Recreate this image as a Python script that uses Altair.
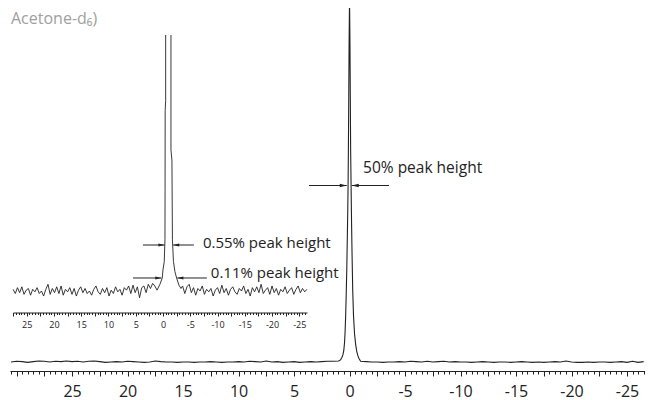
import altair as alt
import pandas as pd

# ---------------- main spectrum (ppm, % of peak height) ----------------
main_left_start, main_step = 30.5, 0.5
main_left_noise = [0.0, 0.2, 0.1, -0.1, 0.1, 0.3, 0.2, 0.0, 0.2, 0.1,
                   0.3, 0.1, 0.2, 0.0, 0.2, 0.3, 0.1, -0.1, 0.0, 0.1,
                   0.0, 0.2, 0.1, 0.0, -0.1, 0.0, 0.3, 0.1, 0.0, 0.0,
                   -0.1, 0.0, 0.0, -0.1, 0.0, 0.0, 0.1, 0.0, -0.1, 0.0,
                   0.0, 0.1, 0.0, 0.2, 0.1, 0.0, 0.3, 0.0, 0.1, -0.1,
                   0.0, 0.1, -0.1, 0.0, 0.1, 0.0, 0.1, 0.2, 0.2, 0.3]
main_peak_ppm = [0.9, 0.8, 0.7, 0.6, 0.52, 0.45, 0.4, 0.35, 0.3, 0.25, 0.2, 0.16, 0.13, 0.1, 0.07,
                 0.04, 0.0, -0.04, -0.07, -0.1, -0.14, -0.18, -0.23, -0.29, -0.36, -0.45, -0.55,
                 -0.65, -0.75, -0.85]
main_peak_int = [0.4, 0.7, 1.2, 2.0, 3.2, 5.5, 8.5, 13, 19, 26, 35, 43, 50, 61, 75,
                 90, 103, 90, 75, 60, 50, 40, 30, 20, 13, 8, 5,
                 3, 1.8, 1.0]
main_right_start = -1.0
main_right_noise = [0.2, 0.1, 0.0, 0.0, -0.1, 0.0, 0.0, 0.1, 0.0, 0.2,
                    0.1, 0.0, 0.2, 0.0, 0.1, 0.2, 0.0, 0.1, 0.0, 0.0,
                    -0.1, 0.0, 0.1, 0.0, -0.1, 0.0, 0.0, -0.1, 0.0, 0.1,
                    0.0, -0.1, 0.0, -0.1, 0.0, 0.1, 0.0, 0.3, 0.0, -0.1,
                    -0.1, 0.0, -0.1, 0.0, 0.0, -0.1, 0.0, 0.1, -0.1, 0.2,
                    -0.1, 0.1]

# ---------------- inset spectrum (ppm, 0.01 % of peak height) ----------------
inset_left_start, inset_step = 27.5, 0.4
inset_left_noise = [2, -3, 4, -2, 5, -4, 1, 3, -5, 2,
                    -1, 4, -3, 0, -6, 2, 8, -4, 3, -2,
                    5, -3, 6, -5, 2, -1, 4, -4, 3, -6,
                    1, 5, -2, 3, -3, 0, -5, 2, 6, -1,
                    -4, 3, -2, 4, -6, 1, -3, 5, -1, 2,
                    -5, 4, 1, 6, -3, 7, -2, 5, -8, 4,
                    6, -2, 8, 3, 9, 6]
inset_lflank_ppm = [1.1, 0.56, 0.14, 0.01, -0.23, -0.36, -0.38, -0.40, -0.49, -0.49]
inset_lflank_int = [1, 8, 15.5, 25, 35, 61, 120, 215, 227, 305]
inset_rflank_ppm = [-1.46, -1.46, -1.64, -1.73, -1.92, -2.19, -2.5, -2.92, -3.3]
inset_rflank_int = [305, 168, 156, 61, 35, 23, 15.5, 7, 3]
inset_right_start = -3.6
inset_right_noise = [6, -3, 5, 8, -2, 4, -5, 3, 0, 6,
                     -4, 2, -1, 3, -6, 1, 4, -3, 7, -2,
                     3, -5, 2, 5, -1, -4, 3, 0, 6, -3,
                     2, -6, 4, -1, 5, -2, 8, -3, 1, 4,
                     -4, 6, -2, 3, -5, 2, -1, 5, -3, 1,
                     4, -4, 2, 6, -2, 3, -1, 2]

# ---------------- annotations ----------------
main_arrow_tail = [3.65, -3.56]
main_arrow_tip = [0.25, -0.2]
main_arrow_level = [50, 50]
main_label = ["50% peak height"]
main_label_ppm = [-1.22]
main_label_level = [55]

inset_arrow_tail = [3.67, -5.67, 5.5, -8.05]
inset_arrow_tip = [-0.28, -1.86, 0.3, -2.62]
inset_arrow_level = [54.8, 54.8, 15.5, 15.5]
inset_labels = ["0.55% peak height", "0.11% peak height"]
inset_label_ppm = [-7.32, -8.78]
inset_label_level = [57, 21.4]

title_text = "Acetone-d₆)"

main_tick_values = [30 - 2.5 * i for i in range(23)]
main_minor_values = [30.5 - 0.5 * i for i in range(115)]
inset_tick_values = [27.5 - 2.5 * i for i in range(22)]
inset_minor_values = [27.5 - 0.5 * i for i in range(108)]

# ---------------- tables ----------------
m_ppm = ([main_left_start - main_step * i for i in range(len(main_left_noise))]
         + main_peak_ppm
         + [main_right_start - main_step * i for i in range(len(main_right_noise))])
m_val = main_left_noise + main_peak_int + main_right_noise
main_df = pd.DataFrame({"ppm": m_ppm, "v": m_val, "i": range(len(m_ppm))})

l_ppm = [inset_left_start - inset_step * i for i in range(len(inset_left_noise))] + inset_lflank_ppm
l_val = inset_left_noise + inset_lflank_int
r_ppm = inset_rflank_ppm + [inset_right_start - inset_step * i for i in range(len(inset_right_noise))]
r_val = inset_rflank_int + inset_right_noise
inset_df = pd.DataFrame({
    "ppm": l_ppm + r_ppm,
    "v": l_val + r_val,
    "side": ["L"] * len(l_ppm) + ["R"] * len(r_ppm),
    "i": list(range(len(l_ppm))) + list(range(len(r_ppm))),
})

main_arrows = pd.DataFrame({"tail": main_arrow_tail, "tip": main_arrow_tip, "v": main_arrow_level})
inset_arrows = pd.DataFrame({"tail": inset_arrow_tail, "tip": inset_arrow_tip, "v": inset_arrow_level})
main_text_df = pd.DataFrame({"t": main_label, "ppm": main_label_ppm, "v": main_label_level})
inset_text_df = pd.DataFrame({"t": inset_labels, "ppm": inset_label_ppm, "v": inset_label_level})

W, H = 635, 363
INK = "#222222"
FONT = "Open Sans"


def mx():
    return alt.Scale(domain=[-26.62, 30.59], reverse=True, range=[0, W], nice=False, zero=False)


def my():
    return alt.Scale(domain=[0, 100], range=[354, 1], nice=False, zero=False)


def ix():
    return alt.Scale(domain=[-26.42, 27.52], reverse=True, range=[3, 297], nice=False, zero=False)


def iy():
    return alt.Scale(domain=[0, 305], range=[283, 27], nice=False, zero=False)


main_minor_axis = alt.Axis(values=main_minor_values, tickSize=3, labels=False, domain=True,
                           domainColor=INK, tickColor=INK, grid=False, title=None, orient="bottom")
main_major_axis = alt.Axis(values=main_tick_values, tickSize=5, domain=False, grid=False, title=None,
                           orient="bottom", tickColor=INK,
                           labelExpr="(datum.value % 5 == 0 && datum.value < 28) ? '' + datum.value : ''",
                           labelFont=FONT, labelFontSize=16, labelColor=INK, labelPadding=7,
                           labelFlush=False, labelOverlap=False)
inset_minor_axis = alt.Axis(values=inset_minor_values, tickSize=2, labels=False, domain=True,
                            domainColor=INK, tickColor=INK, grid=False, title=None, orient="bottom",
                            offset=-58.5)
inset_major_axis = alt.Axis(values=inset_tick_values, tickSize=3.5, domain=False, grid=False, title=None,
                            orient="bottom", tickColor=INK, offset=-58.5,
                            labelExpr="(datum.value % 5 == 0) ? '' + datum.value : ''",
                            labelFont=FONT, labelFontSize=9, labelColor=INK, labelPadding=4,
                            labelFlush=False, labelOverlap=False)

base_main = alt.Chart(main_df)
main_line = base_main.mark_line(color=INK, strokeWidth=1.1).encode(
    x=alt.X("ppm:Q", scale=mx(), axis=main_minor_axis),
    y=alt.Y("v:Q", scale=my(), axis=None),
    order="i:Q",
)
main_axis_layer = base_main.mark_line(opacity=0).encode(
    x=alt.X("ppm:Q", scale=mx(), axis=main_major_axis),
    y=alt.Y("v:Q", scale=my(), axis=None),
    order="i:Q",
)

base_inset = alt.Chart(inset_df)
inset_line = base_inset.mark_line(color=INK, strokeWidth=0.9).encode(
    x=alt.X("ppm:Q", scale=ix(), axis=inset_minor_axis),
    y=alt.Y("v:Q", scale=iy(), axis=None),
    detail="side:N",
    order="i:Q",
)
inset_axis_layer = base_inset.mark_line(opacity=0).encode(
    x=alt.X("ppm:Q", scale=ix(), axis=inset_major_axis),
    y=alt.Y("v:Q", scale=iy(), axis=None),
    detail="side:N",
    order="i:Q",
)

HEAD_R = "M0,0L-1,-0.25L-1,0.25Z"
HEAD_L = "M0,0L1,-0.25L1,0.25Z"


def arrow_layers(df, xs, ys, size):
    rule = alt.Chart(df).mark_rule(color=INK, strokeWidth=1).encode(
        x=alt.X("tail:Q", scale=xs(), axis=None), x2="tip:Q",
        y=alt.Y("v:Q", scale=ys(), axis=None))
    right_heads = alt.Chart(df).transform_filter("datum.tail > datum.tip").mark_point(
        shape=HEAD_R, filled=True, color=INK, size=size, opacity=1).encode(
        x=alt.X("tip:Q", scale=xs(), axis=None), y=alt.Y("v:Q", scale=ys(), axis=None))
    left_heads = alt.Chart(df).transform_filter("datum.tail < datum.tip").mark_point(
        shape=HEAD_L, filled=True, color=INK, size=size, opacity=1).encode(
        x=alt.X("tip:Q", scale=xs(), axis=None), y=alt.Y("v:Q", scale=ys(), axis=None))
    return [rule, right_heads, left_heads]


main_text = alt.Chart(main_text_df).mark_text(
    align="left", baseline="middle", font=FONT, fontSize=15.5, color=INK).encode(
    x=alt.X("ppm:Q", scale=mx(), axis=None), y=alt.Y("v:Q", scale=my(), axis=None), text="t:N")
inset_text = alt.Chart(inset_text_df).mark_text(
    align="left", baseline="middle", font=FONT, fontSize=15, color=INK).encode(
    x=alt.X("ppm:Q", scale=ix(), axis=None), y=alt.Y("v:Q", scale=iy(), axis=None), text="t:N")

title = alt.Chart(pd.DataFrame({"t": [title_text]})).mark_text(
    align="left", baseline="top", font=FONT, fontSize=16, color="#a0a0a0").encode(
    x=alt.value(1), y=alt.value(3), text="t:N")

chart = alt.layer(
    main_line, main_axis_layer, inset_line, inset_axis_layer,
    *arrow_layers(main_arrows, mx, my, 196),
    *arrow_layers(inset_arrows, ix, iy, 150),
    main_text, inset_text, title,
).resolve_scale(x="independent", y="independent").properties(
    width=W, height=H,
    autosize=alt.AutoSizeParams(type="none"),
    padding={"left": 2, "top": 0, "right": 0, "bottom": 32},
).configure_view(stroke=None)

chart.save("out.html", embed_options={"renderer": "svg", "actions": False})
